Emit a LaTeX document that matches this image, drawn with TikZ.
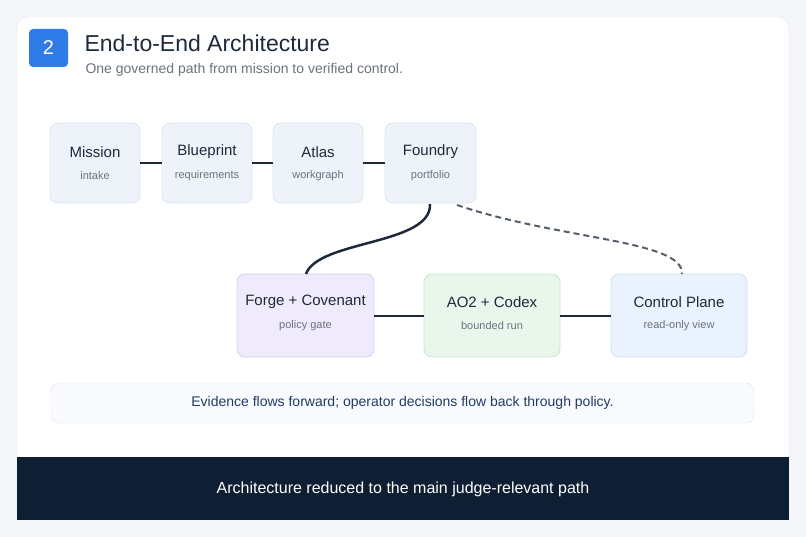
\documentclass[tikz,border=0pt]{standalone}
\usepackage{fontspec}
\setmainfont{Liberation Sans}
\definecolor{bg}{HTML}{F4F6F9}
\definecolor{ink}{HTML}{1E2A3A}
\definecolor{sub}{HTML}{6B7280}
\definecolor{boxf}{HTML}{EEF3FA}\definecolor{boxd}{HTML}{DDE5EF}
\definecolor{pf}{HTML}{F0EBFC}\definecolor{pd}{HTML}{D8CEF5}
\definecolor{gf}{HTML}{E8F6EC}\definecolor{gd}{HTML}{CBE8D3}
\definecolor{bf}{HTML}{EAF2FD}\definecolor{bd}{HTML}{CFE0F5}
\definecolor{dark}{HTML}{0F1F33}
\definecolor{note}{HTML}{1F3B66}
\definecolor{badge}{HTML}{2F7BE8}
\begin{document}
\begin{tikzpicture}[x=1pt,y=-1pt,
  box/.style={draw=boxd,fill=boxf,rounded corners=8pt,line width=0.8pt},
  ttl/.style={font=\fontsize{15}{17}\selectfont,text=ink},
  st/.style={font=\fontsize{11}{13}\selectfont,text=sub},
  link/.style={draw=ink,line width=2.5pt}]
\fill[bg] (0,0) rectangle (806,537);
\useasboundingbox (0,0) rectangle (806,537);
\draw[draw=boxd,fill=white,rounded corners=10pt] (17,17) rectangle (789,520);
\fill[dark] (17,457) rectangle (789,520);
\node[font=\fontsize{16}{19}\selectfont,text=white] (cap) at (403,489) {Architecture reduced to the main judge-relevant path};
\fill[badge,rounded corners=4pt] (29,29) rectangle (68,67);
\node[font=\fontsize{20}{22}\selectfont,text=white] (n2) at (48.5,48) {2};
\node[anchor=west,font=\fontsize{23}{26}\selectfont,text=ink] (title) at (81,43) {End-to-End Architecture};
\node[anchor=west,font=\fontsize{14}{16}\selectfont,text=sub] (subt) at (82,70) {One governed path from mission to verified control.};
% top row
\foreach \n/\a/\b/\t/\s in {mis/50/140/Mission/intake,blu/162/252/Blueprint/requirements,atl/273/363/Atlas/workgraph,fou/385/476/Foundry/portfolio}{
  \path[box] (\a,123) rectangle (\b,203);
  \coordinate (\n W) at (\a,163); \coordinate (\n E) at (\b,163);
  \node[ttl] (\n t) at ({(\a+\b)/2},152) {\t};
  \node[st] (\n s) at ({(\a+\b)/2},176) {\s};
}
\path[link] (misE) -- (bluW); \path[link] (bluE) -- (atlW); \path[link] (atlE) -- (fouW);
% bottom row
\path[box,draw=pd,fill=pf] (237,274) rectangle (374,357);
\path[box,draw=gd,fill=gf] (424,274) rectangle (560,357);
\path[box,draw=bd,fill=bf] (611,274) rectangle (747,357);
\node[ttl] (fo) at (305.5,302) {Forge + Covenant};
\node[st] (fos) at (305.5,326) {policy gate};
\node[ttl] (ao) at (492,302) {AO2 + Codex};
\node[st] (aos) at (492,326) {bounded run};
\node[ttl] (cp) at (679,302) {Control Plane};
\node[st] (cps) at (679,326) {read-only view};
\coordinate (foE) at (374,316); \coordinate (aoW) at (424,316);
\coordinate (aoE) at (560,316); \coordinate (cpW) at (611,316);
\path[link] (foE) -- (aoW); \path[link] (aoE) -- (cpW);
\coordinate (fouB) at (430,204); \coordinate (foT) at (306,274);
\coordinate (fouB2) at (457,205); \coordinate (cpT) at (682,274);
\draw[ink,line width=2.5pt] (fouB) .. controls (432,245) and (318,240) .. (foT);
\draw[ink!75,line width=2pt,dash pattern=on 6pt off 4pt] (fouB2) .. controls (560,240) and (684,240) .. (cpT);
% note
\draw[draw=boxd,fill=bf!35,rounded corners=8pt] (51,383) rectangle (754,423);
\node[font=\fontsize{14}{16}\selectfont,text=note] (nt) at (402.5,403) {Evidence flows forward; operator decisions flow back through policy.};
\end{tikzpicture}
\end{document}
